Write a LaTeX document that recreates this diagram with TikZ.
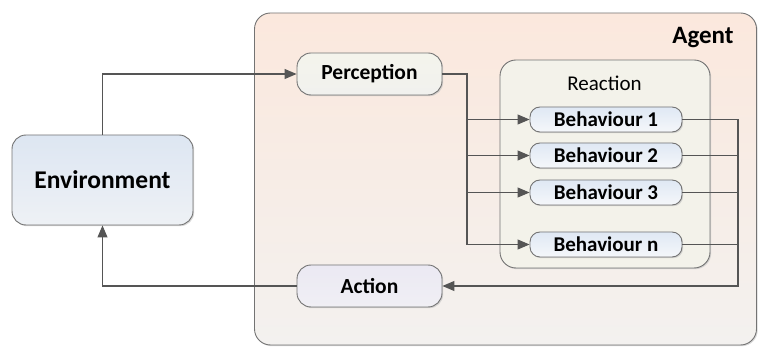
\documentclass[tikz,border=0pt]{standalone}
\usepackage{fontspec}
\setmainfont{Carlito}
\usetikzlibrary{arrows.meta,shadows}
\definecolor{linec}{HTML}{555555}
\definecolor{borderc}{HTML}{737373}
\tikzset{
  box/.style={draw=borderc, line width=0.9pt, rectangle, inner sep=0pt,
    drop shadow={shadow xshift=1.2pt, shadow yshift=-1.2pt, fill=black!25, opacity=0.6}},
  envbox/.style={box, rounded corners=14pt, minimum width=181pt, minimum height=90pt,
    top color=envtop, bottom color=envbot, font=\fontsize{25.5}{28}\selectfont\bfseries},
  procbox/.style={box, rounded corners=14pt, minimum width=145pt, minimum height=42pt,
    font=\fontsize{21.5}{24}\selectfont\bfseries},
  behbox/.style={box, rounded corners=10pt, minimum width=152pt, minimum height=25pt,
    top color=behtop, bottom color=behbot, font=\fontsize{21}{24}\selectfont\bfseries},
  conn/.style={draw=linec, line width=1.1pt},
  arr/.style={conn, -{Triangle[length=12pt,width=10pt]}},
}
\definecolor{envtop}{HTML}{DDE6F2}
\definecolor{envbot}{HTML}{EEF1F5}
\definecolor{agtop}{HTML}{FBE8DD}
\definecolor{agbot}{HTML}{F3F1EF}
\definecolor{pertop}{HTML}{F4F4EC}
\definecolor{perbot}{HTML}{F1F1EE}
\definecolor{acttop}{HTML}{EBE9F3}
\definecolor{actbot}{HTML}{F0EFF4}
\definecolor{reac}{HTML}{F3F2EA}
\definecolor{behtop}{HTML}{DFE8F4}
\definecolor{behbot}{HTML}{F5F7FA}
\begin{document}
\begin{tikzpicture}[x=1pt,y=-1pt]
\useasboundingbox (0,0) rectangle (758,347);
% agent container
\node[box, rounded corners=16pt, top color=agtop, bottom color=agbot,
  minimum width=502pt, minimum height=332pt] (agent) at (505.5,179) {};
\node[font=\fontsize{25}{28}\selectfont\bfseries, anchor=center] (agentlbl) at (703,38) {Agent};
% environment
\node[envbox] (env) at (102.5,180) {Environment};
% perception & action
\node[procbox, top color=pertop, bottom color=perbot] (perc) at (369.5,74) {Perception};
\node[procbox, top color=acttop, bottom color=actbot] (act) at (369.5,286) {Action};
% reaction container
\node[box, rounded corners=16pt, fill=reac, minimum width=210pt, minimum height=208pt] (reac) at (605,164) {};
\node[font=\fontsize{21}{24}\selectfont] (reaclbl) at (604.5,83) {Reaction};
% behaviours
\node[behbox] (b1) at (606,119.5) {Behaviour 1};
\node[behbox] (b2) at (606,155.5) {Behaviour 2};
\node[behbox] (b3) at (606,192.5) {Behaviour 3};
\node[behbox] (bn) at (606,244.5) {Behaviour n};
% trunks
\coordinate (lt) at (467,0);
\coordinate (rt) at (738,0);
% connectors
\draw[arr] (env.north) |- (perc.west);
\draw[arr] (perc.east) -| (lt |- bn.west) -- (bn.west);
\draw[arr] (lt |- b1.west) -- (b1.west);
\draw[arr] (lt |- b2.west) -- (b2.west);
\draw[arr] (lt |- b3.west) -- (b3.west);
\draw[conn] (b1.east) -- (rt |- b1.east);
\draw[conn] (b2.east) -- (rt |- b2.east);
\draw[conn] (b3.east) -- (rt |- b3.east);
\draw[arr] (bn.east) -| (rt |- act.east) -- (act.east);
\draw[conn] (b1.east) -| (rt |- bn.east);
\draw[arr] (act.west) -| (env.south);
\end{tikzpicture}
\end{document}
